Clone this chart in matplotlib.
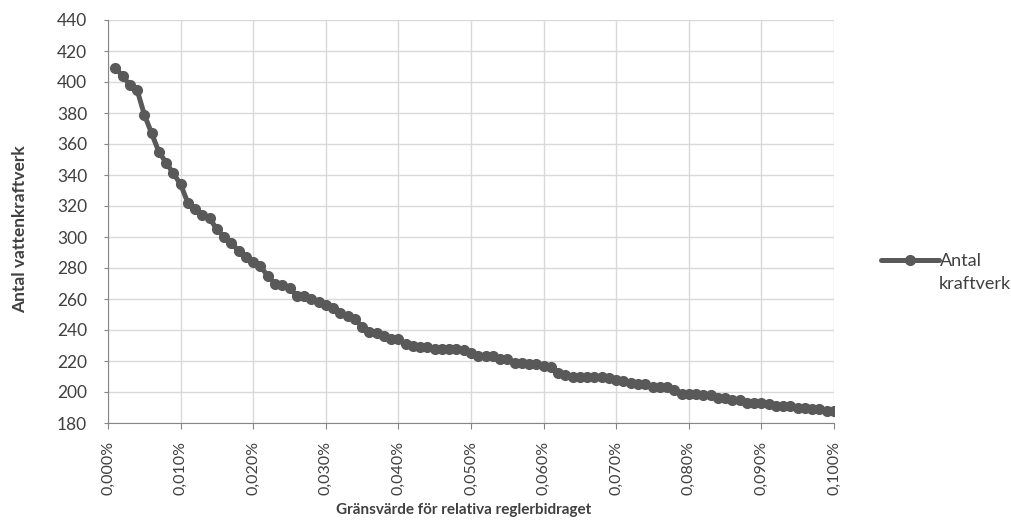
import matplotlib
matplotlib.use('Agg')
import matplotlib.pyplot as plt
from matplotlib.ticker import FuncFormatter

plt.rcParams['font.family'] = ['Lato', 'DejaVu Sans']

# threshold in percent, 0.001 .. 0.100
thresholds = [round(0.001 * i, 3) for i in range(1, 101)]
antal = [409, 404, 398, 395, 379, 367, 355, 348, 341, 334,
         322, 318, 314, 312, 305, 300, 296, 291, 287, 284,
         281, 275, 270, 269, 267, 262, 262, 260, 258, 256,
         254, 251, 249, 247, 242, 239, 238, 236, 234, 234,
         231, 230, 229, 229, 228, 228, 228, 228, 227, 225,
         223, 223, 223, 221, 221, 219, 219, 218, 218, 217,
         216, 212, 211, 210, 210, 210, 210, 210, 209, 208,
         207, 206, 205, 205, 203, 203, 203, 201, 199, 199,
         199, 198, 198, 196, 196, 195, 195, 193, 193, 193,
         192, 191, 191, 191, 190, 190, 189, 189, 188, 188]
xticks = [0.01 * i for i in range(11)]
yticks = list(range(180, 441, 20))

W, H = 1011, 520
fig = plt.figure(figsize=(W / 100, H / 100), dpi=100)
ax = fig.add_axes([108 / W, 1 - 423 / H, (834 - 108) / W, (423 - 20) / H])

line_col = '#595959'
ax.plot(thresholds, antal, color=line_col, lw=3.6, marker='o', ms=7,
        label='Antal', solid_capstyle='round', solid_joinstyle='round')

ax.set_xlim(0, 0.1)
ax.set_ylim(180, 440)
ax.set_xticks(xticks)
ax.set_yticks(yticks)
ax.xaxis.set_major_formatter(FuncFormatter(lambda v, p: f'{v:.3f}%'.replace('.', ',')))
ax.tick_params(axis='x', rotation=90, labelsize=11.5, length=4, pad=9)
ax.tick_params(axis='y', labelsize=12.5, length=3, pad=12)
ax.tick_params(colors='#404040', color='#868686')
ax.grid(True, color='#d9d9d9', lw=1)
ax.set_axisbelow(True)
for s in ['top', 'right']:
    ax.spines[s].set_visible(False)
for s in ['left', 'bottom']:
    ax.spines[s].set_color('#868686')

ax.set_xlabel('Gränsvärde för relativa reglerbidraget', fontsize=11,
              fontweight='bold', color='#404040')
ax.xaxis.set_label_coords(0.49, (423 - 503) / 403)
ax.set_ylabel('Antal vattenkraftverk', fontsize=12.5, fontweight='bold',
              color='#404040')
ax.yaxis.set_label_coords((28 - 108) / 726, 0.48)

leg = fig.legend(loc='center left', bbox_to_anchor=(881 / W, 1 - 261 / H),
                 frameon=False, fontsize=13, handlelength=3.2,
                 handletextpad=0.05, borderpad=0, borderaxespad=0,
                 labelcolor='#404040')
fig.text(939 / W, 1 - 284 / H, 'kraftverk', fontsize=13, color='#404040',
         va='center', ha='left')

fig.savefig('out.png', dpi=100)
